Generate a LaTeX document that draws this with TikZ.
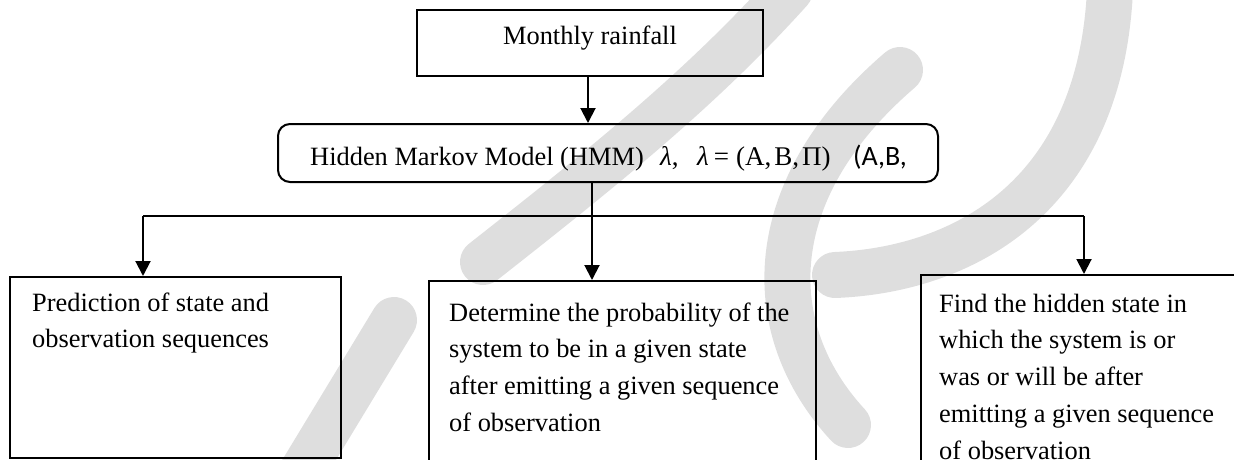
\documentclass[tikz,border=0pt]{standalone}
\usepackage{fontspec}
\setmainfont{Liberation Serif}
\newfontfamily\sansabc{Carlito}
\usetikzlibrary{arrows.meta}
\definecolor{wmark}{RGB}{222,222,222}
\tikzset{
  box/.style={draw=black, line width=2pt, inner sep=0pt},
  roundbox/.style={box, rounded corners=12pt},
  link/.style={line width=2pt, -{Triangle[width=15pt,length=15pt]}},
  bar/.style={line width=2pt},
  mark stroke/.style={draw=wmark, line width=46pt, line cap=round},
  label/.style={inner sep=0pt, anchor=base west},
}
\newcommand{\bodyfont}{\fontsize{26.4}{36.8}\selectfont}
\newcommand{\eqfont}{\fontsize{27}{30}\selectfont}
\begin{document}
\begin{tikzpicture}[x=1pt, y=-1pt]
  \useasboundingbox (0,0) rectangle (1234,460);
  \clip (0,0) rectangle (1234,460);

  % light grey logo strokes in the background
  \draw[mark stroke] (394,320) -- (300,475);
  \draw[mark stroke] (483,262) .. controls (600,170) and (700,90) .. (790,-10);
  \draw[mark stroke] (900,70) .. controls (760,190) and (760,330) .. (848,425);
  \draw[mark stroke] (1110,-10) .. controls (1100,200) and (960,270) .. (835,275);

  % boxes
  \node[box, minimum width=346pt, minimum height=66pt] (rain) at (590,43) {};
  \node[roundbox, minimum width=660pt, minimum height=58pt] (hmm) at (608,153) {};
  \node[box, minimum width=331pt, minimum height=181pt, anchor=north west] (pred) at (9,276) {};
  \node[box, minimum width=387pt, minimum height=220pt, anchor=north west] (prob) at (428,280) {};
  \node[box, minimum width=340pt, minimum height=220pt, anchor=north west] (find) at (920,274) {};

  % texts
  \node[inner sep=0pt, anchor=base] (raintxt) at (590,45) {\bodyfont Monthly rainfall};
  \node[label] (hmmtxt) at (310,165) {\bodyfont Hidden Markov Model (HMM)};
  \node[label] (lam) at (660,165) {\eqfont\textit{λ},};
  \node[label] (lamdef) at (697,165) {\eqfont\textit{λ}\hspace{5pt}=\hspace{7pt}(A,\hspace{3pt}B,\hspace{3pt}Π)};
  \node[label] (abtail) at (853,165) {\sansabc\fontsize{28}{32}\selectfont(A,B,};

  \node[label] (predtxt) at (32,311) {\parbox[t]{300pt}{\raggedright\bodyfont
    Prediction of state and\\observation sequences}};
  \node[label] (probtxt) at (449,321) {\parbox[t]{360pt}{\raggedright\bodyfont
    Determine the probability of the\\system to be in a given state\\after emitting a given sequence\\of observation}};
  \node[label] (findtxt) at (939,312) {\parbox[t]{300pt}{\raggedright\bodyfont
    Find the hidden state in\\which the system is or\\was or will be after\\emitting a given sequence\\of observation}};

  % connectors
  \coordinate (split) at (592,216);
  \coordinate (lefttap) at (143,216);
  \coordinate (righttap) at (1084,216);
  \draw[link] ([xshift=-2pt]rain.south) -- ([xshift=-2pt]rain.south |- hmm.north);
  \draw[bar] (split |- hmm.south) -- (split);
  \draw[bar] (lefttap) -- (righttap);
  \draw[link] (lefttap) -- (lefttap |- pred.north);
  \draw[link] (split) -- (split |- prob.north);
  \draw[link] (righttap) -- (righttap |- find.north);
\end{tikzpicture}
\end{document}
